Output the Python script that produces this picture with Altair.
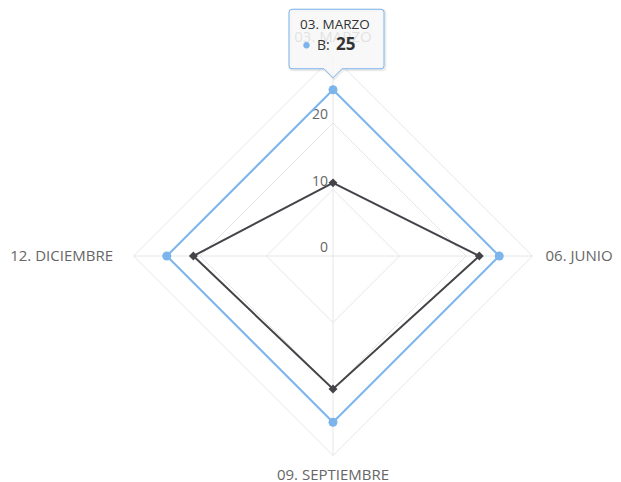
import altair as alt
import pandas as pd
import numpy as np

# ---- data ----
categories = ["03. MARZO", "06. JUNIO", "09. SEPTIEMBRE", "12. DICIEMBRE"]
series_names = ["B", "A"]
values_b = [25, 25, 25, 25]
values_a = [11, 22, 20, 21]
grid_levels = [10, 20, 30]
radial_ticks = [0, 10, 20]
r_max = 30
series_colors = ["#7cb5ec", "#434348"]
series_shapes = ["circle", "diamond"]
tooltip_series = "B"
tooltip_category = "03. MARZO"

angles = [360.0 * i / len(categories) for i in range(len(categories))]


def polar(r, deg):
    t = np.deg2rad(deg)
    return float(r * np.sin(t)), float(r * np.cos(t))


# series table (closed polygons)
rows = []
for name, vals in zip(series_names, [values_b, values_a]):
    for i in range(len(categories) + 1):
        j = i % len(categories)
        x, y = polar(vals[j], angles[j])
        rows.append(dict(series=name, category=categories[j], value=vals[j],
                         order=i, x=x, y=y, point=i < len(categories)))
series_df = pd.DataFrame(rows)
points_df = series_df[series_df.point]

# grid polygons
grows = []
for lv in grid_levels:
    for i in range(len(categories) + 1):
        j = i % len(categories)
        x, y = polar(lv, angles[j])
        grows.append(dict(level=lv, order=i, x=x, y=y))
grid_df = pd.DataFrame(grows)

# spokes
srows = []
for c, a in zip(categories, angles):
    x2, y2 = polar(r_max, a)
    srows.append(dict(category=c, x=0.0, y=0.0, x2=x2, y2=y2))
spoke_df = pd.DataFrame(srows)

# category labels
lrows = []
for c, a in zip(categories, angles):
    x, y = polar(r_max, a)
    lrows.append(dict(category=c, x=x, y=y))
label_df = pd.DataFrame(lrows)

# radial tick labels
tick_df = pd.DataFrame(dict(label=[str(t) for t in radial_ticks],
                            x=[0.0] * len(radial_ticks),
                            y=[float(t) for t in radial_ticks]))

tip_df = points_df[(points_df.series == tooltip_series) &
                   (points_df.category == tooltip_category)].copy()
tip_df["label"] = tip_df["series"] + ":"
tip_df["val"] = tip_df["value"].astype(str)

# ---- layout (pixels) ----
W, H = 605, 474
k = 6.65
cx_px, cy_px = 325, 248
xs = alt.Scale(domain=[-cx_px / k, (W - cx_px) / k], nice=False, zero=False)
ys = alt.Scale(domain=[-(H - cy_px) / k, cy_px / k], nice=False, zero=False)
X = alt.X("x:Q", scale=xs, axis=None)
Y = alt.Y("y:Q", scale=ys, axis=None)

FONT = "Open Sans"
LABEL_COLOR = "#666666"

grid = alt.Chart(grid_df).mark_line(stroke="#e6e6e6", strokeWidth=1).encode(
    x=X, y=Y, detail="level:N", order="order:Q")

spokes = alt.Chart(spoke_df).mark_rule(stroke="#e6e6e6", strokeWidth=1).encode(
    x=X, y=Y, x2="x2:Q", y2="y2:Q")

color_scale = alt.Scale(domain=series_names, range=series_colors)
shape_scale = alt.Scale(domain=series_names, range=series_shapes)

lines = alt.Chart(series_df).mark_line(strokeWidth=2).encode(
    x=X, y=Y, color=alt.Color("series:N", scale=color_scale, legend=None),
    detail="series:N", order="order:Q")

pts = alt.Chart(points_df).mark_point(filled=True, opacity=1, size=80).encode(
    x=X, y=Y,
    color=alt.Color("series:N", scale=color_scale, legend=None),
    shape=alt.Shape("series:N", scale=shape_scale, legend=None))

ticks = alt.Chart(tick_df).mark_text(
    align="right", baseline="alphabetic", dx=-5, dy=-4,
    font=FONT, fontSize=14, color=LABEL_COLOR).encode(x=X, y=Y, text="label:N")


def cat_label(cat, align, dx, dy):
    return alt.Chart(label_df[label_df.category == cat]).mark_text(
        align=align, baseline="alphabetic", dx=dx, dy=dy,
        font=FONT, fontSize=15, color=LABEL_COLOR).encode(
        x=X, y=Y, text="category:N")


labels = [
    cat_label(categories[0], "center", 0, -14.5),
    cat_label(categories[1], "left", 13, 5),
    cat_label(categories[2], "center", 0, 24.5),
    cat_label(categories[3], "right", -20.5, 5),
]

callout = ("M-41,-80.5 L48,-80.5 Q51,-80.5 51,-77.5 L51,-24 Q51,-21 48,-21 "
           "L9,-21 L0,-12 L-9,-21 L-41,-21 Q-44,-21 -44,-24 "
           "L-44,-77.5 Q-44,-80.5 -41,-80.5 Z")

tip_shadow = alt.Chart(tip_df).mark_point(
    shape=callout, size=4, filled=False, fill="transparent",
    stroke="#000000", strokeOpacity=0.08, strokeWidth=3,
    xOffset=1, yOffset=1, opacity=1).encode(x=X, y=Y)

tip_box = alt.Chart(tip_df).mark_point(
    shape=callout, size=4, filled=True, fill="#f7f7f7", fillOpacity=0.85,
    stroke="#7cb5ec", strokeWidth=1, strokeOpacity=1, opacity=1).encode(x=X, y=Y)

tip_header = alt.Chart(tip_df).mark_text(
    align="left", baseline="alphabetic", dx=-33, dy=-61,
    font=FONT, fontSize=13.5, color="#333333").encode(x=X, y=Y, text="category:N")

tip_bullet = alt.Chart(tip_df).mark_point(
    filled=True, size=40, opacity=1, xOffset=-26.5, yOffset=-44.5).encode(
    x=X, y=Y, color=alt.Color("series:N", scale=color_scale, legend=None))

tip_name = alt.Chart(tip_df).mark_text(
    align="left", baseline="alphabetic", dx=-16, dy=-40,
    font=FONT, fontSize=14, color="#333333").encode(x=X, y=Y, text="label:N")

tip_val = alt.Chart(tip_df).mark_text(
    align="left", baseline="alphabetic", dx=3, dy=-40,
    font=FONT, fontSize=17, fontWeight="bold", color="#333333").encode(
    x=X, y=Y, text="val:N")

chart = alt.layer(
    grid, spokes, ticks, *labels, lines, pts,
    tip_shadow, tip_box, tip_header, tip_bullet, tip_name, tip_val
).properties(
    width=W, height=H, padding=0,
    autosize=alt.AutoSizeParams(type="none")
).configure_view(stroke=None)

chart.save("out.html", embed_options={"renderer": "svg", "actions": False})
